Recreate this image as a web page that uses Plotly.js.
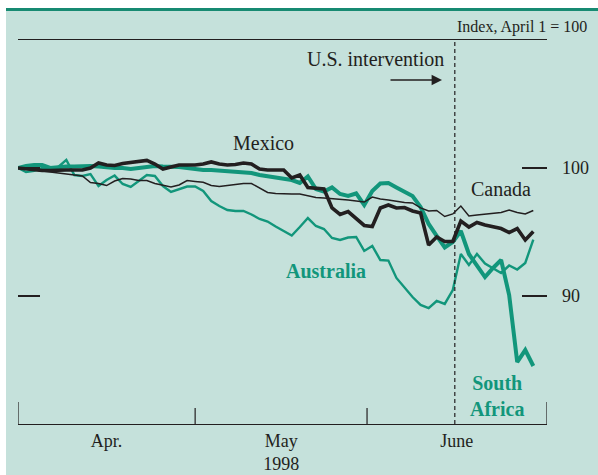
<!DOCTYPE html>
<html>
<head>
<meta charset="utf-8">
<script src="https://cdn.plot.ly/plotly-3.0.1.min.js"></script>
<style>html,body{margin:0;padding:0;background:#fff;}</style>
</head>
<body>
<div id="chart" style="width:598px;height:475px;"></div>
<script>
// Business-day index since April 1, 1998 (0 = April 1)
const dayIndex = [0,1,2,3,4,5,6,7,8,9,10,11,12,13,14,15,16,17,18,19,20,21,22,23,24,25,26,27,28,29,30,31,32,33,34,35,36,37,38,39,40,41,42,43,44,45,46,47,48,49,50,51,52,53,54,55,56,57,58,59,60,61,62,63,64];

const mexico = [100,99.92,99.84,99.8,99.8,99.84,99.84,99.84,99.84,100.0,100.39,100.23,100.2,100.35,100.43,100.55,100.59,100.31,99.92,100.08,100.23,100.23,100.23,100.31,100.47,100.31,100.23,100.27,100.39,100.31,99.92,99.84,99.84,99.84,99.22,99.45,98.48,98.44,98.36,96.88,96.37,96.6,96.09,95.51,95.43,96.88,97.11,96.88,96.91,96.64,96.48,93.98,94.61,94.26,94.26,95.86,95.39,95.74,95.55,95.39,95.27,94.96,95.27,94.38,95.04];

const canada = [100,99.92,99.84,99.8,99.73,99.65,99.57,99.49,99.38,98.87,98.79,98.63,98.98,99.18,99.14,99.02,99.02,98.79,98.63,98.52,98.67,99.02,98.95,98.88,98.63,98.55,98.63,98.71,98.79,98.79,98.44,98.09,98.01,97.97,97.97,97.97,97.81,97.7,97.66,97.62,97.58,97.5,97.42,97.34,97.73,97.58,97.5,97.38,97.3,97.27,96.88,96.64,96.68,96.21,96.41,97.03,96.25,96.33,96.41,96.45,96.52,96.72,96.52,96.41,96.68];

const australia = [100,99.69,99.77,100,100.04,100.08,100.63,99.45,99.38,99.53,98.59,99.06,99.41,98.75,98.52,98.98,99.45,99.38,98.59,98.13,98.36,98.55,98.55,98.2,97.42,97.03,96.72,96.64,96.64,96.37,96.02,95.82,95.43,95.08,94.73,95.39,96.09,95.47,95.23,94.53,94.38,94.57,94.61,93.52,93.91,92.81,92.77,91.41,90.63,89.92,89.3,89.06,89.61,89.38,90.47,93.28,92.42,93.28,92.54,92.15,91.8,92.38,92.07,92.58,94.41];

const southAfrica = [100,100.16,100.23,100.23,100,100.08,100.12,100.12,100.16,100.16,100.12,100.04,100,100,99.92,100,100.08,100.16,100.12,100.12,100.08,100,99.92,99.84,99.84,99.8,99.77,99.73,99.69,99.61,99.45,99.34,99.22,99.14,99.06,98.83,99.34,98.36,98.16,98.48,97.97,97.81,98.01,97.11,98.2,98.79,98.83,98.48,98.16,97.81,96.95,95.63,94.69,93.79,94.22,95.08,93.28,92.34,91.48,92.19,92.81,90.08,84.84,85.78,84.53];

const monthLabels = ['Apr.', 'May<br>1998', 'June'];
const monthCenters = [11, 32.7, 54.5];
const monthBounds = [0, 22, 43.35, 65.7];
const interventionDay = 54.25;
const yTicks = [90, 100];
const yTickText = ['90', '100'];

const TEAL = '#12967b';
const INK = '#231f20';
const BG = '#c5e1db';
const FONT = 'Liberation Serif, Times New Roman, serif';

// plot area in pixels: x 18..547, y 40..424
const PL = 18, PR = 547, PT = 40, PB = 424;
function px(x) { return (x - PL) / (PR - PL); }
function py(y) { return (PB - y) / (PB - PT); }

const traces = [
  {x: dayIndex, y: australia, mode: 'lines', line: {color: TEAL, width: 2.4}, hoverinfo: 'skip', showlegend: false},
  {x: dayIndex, y: southAfrica, mode: 'lines', line: {color: TEAL, width: 4}, hoverinfo: 'skip', showlegend: false},
  {x: dayIndex, y: canada, mode: 'lines', line: {color: INK, width: 1.5}, hoverinfo: 'skip', showlegend: false},
  {x: dayIndex, y: mexico, mode: 'lines', line: {color: INK, width: 3.6}, hoverinfo: 'skip', showlegend: false}
];

const tickLens = [22, 16, 16, 22];
const shapes = [
  {type: 'rect', xref: 'paper', yref: 'paper', x0: px(6), x1: px(600), y0: py(476), y1: py(10), fillcolor: BG, line: {width: 0}, layer: 'below'},
  {type: 'line', xref: 'paper', yref: 'paper', x0: px(6), x1: px(600), y0: py(9.5), y1: py(9.5), line: {color: '#178a72', width: 3}, layer: 'below'},
  {type: 'line', xref: 'x', yref: 'paper', x0: interventionDay, x1: interventionDay, y0: 0, y1: 1, line: {color: INK, width: 1.2, dash: '4px,3px'}}
];
monthBounds.forEach((b, i) => {
  shapes.push({type: 'line', xref: 'x', yref: 'paper', x0: b, x1: b, y0: 0, y1: tickLens[i] / (PB - PT), line: {color: INK, width: 1.2}});
});

const annotations = [
  {xref: 'paper', yref: 'paper', x: px(589), y: py(27), xanchor: 'right', yanchor: 'middle', text: 'Index, April 1 = 100', showarrow: false, font: {family: FONT, size: 16, color: INK}},
  {xref: 'paper', yref: 'paper', x: px(375), y: py(59), xanchor: 'center', yanchor: 'middle', text: 'U.S. intervention', showarrow: false, font: {family: FONT, size: 20, color: INK}},
  {xref: 'paper', yref: 'paper', x: px(442), y: py(80), ax: -53, ay: 0, text: '', showarrow: true, arrowhead: 2, arrowsize: 1.6, arrowwidth: 1.3, arrowcolor: INK},
  {xref: 'paper', yref: 'paper', x: px(263), y: py(143), xanchor: 'center', yanchor: 'middle', text: 'Mexico', showarrow: false, font: {family: FONT, size: 20, color: INK}},
  {xref: 'paper', yref: 'paper', x: px(501), y: py(189), xanchor: 'center', yanchor: 'middle', text: 'Canada', showarrow: false, font: {family: FONT, size: 20, color: INK}},
  {xref: 'paper', yref: 'paper', x: px(326), y: py(271), xanchor: 'center', yanchor: 'middle', text: '<b>Australia</b>', showarrow: false, font: {family: FONT, size: 20, color: TEAL}},
  {xref: 'paper', yref: 'paper', x: px(497), y: py(396), xanchor: 'center', yanchor: 'middle', text: '<b>South</b><br><b>Africa</b>', showarrow: false, align: 'center', font: {family: FONT, size: 20, color: TEAL}}
];

const layout = {
  width: 598, height: 475,
  margin: {l: PL, r: 598 - PR, t: PT, b: 475 - PB, pad: 0},
  paper_bgcolor: '#ffffff',
  plot_bgcolor: 'rgba(0,0,0,0)',
  font: {family: FONT, color: INK},
  xaxis: {
    range: [0, 65.7], showgrid: false, zeroline: false,
    showline: true, mirror: true, linecolor: INK, linewidth: 1.3,
    ticks: '', tickmode: 'array', tickvals: monthCenters, ticktext: monthLabels,
    tickfont: {family: FONT, size: 18, color: INK}
  },
  yaxis: {
    range: [80, 110], side: 'right', showgrid: false, zeroline: false, showline: false,
    tickmode: 'array', tickvals: yTicks, ticktext: yTickText,
    ticks: 'inside', ticklen: 25, tickwidth: 1.2, tickcolor: INK,
    ticklabelstandoff: 14,
    tickfont: {family: FONT, size: 18, color: INK}
  },
  yaxis2: {
    range: [80, 110], overlaying: 'y', side: 'left', showgrid: false, zeroline: false, showline: false,
    tickmode: 'array', tickvals: yTicks, showticklabels: false,
    ticks: 'inside', ticklen: 22, tickwidth: 1.2, tickcolor: INK
  },
  shapes: shapes,
  annotations: annotations
};

// dummy trace to activate yaxis2 ticks
traces.unshift({x: [dayIndex[0]], y: [australia[0]], yaxis: 'y2', mode: 'lines', line: {width: 0}, hoverinfo: 'skip', showlegend: false});

Plotly.newPlot('chart', traces, layout, {displayModeBar: false, staticPlot: true});
</script>
</body>
</html>
